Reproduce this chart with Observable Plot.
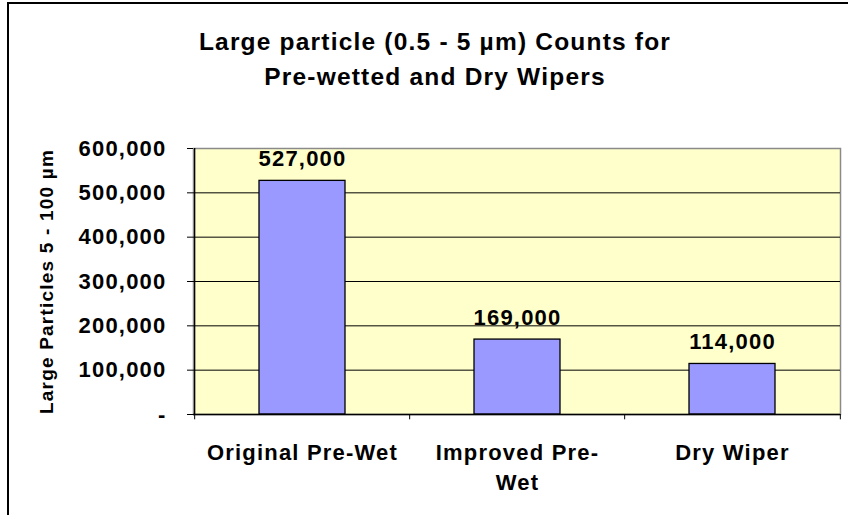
<!DOCTYPE html>
<html>
<head>
<meta charset="utf-8">
<script src="https://cdn.jsdelivr.net/npm/d3@7"></script>
<script src="https://cdn.jsdelivr.net/npm/@observablehq/plot@0.6"></script>
<style>
  html, body { margin: 0; padding: 0; background: #fff; }
  #wrap { position: relative; width: 848px; height: 515px; overflow: hidden; }
  #border { position: absolute; left: 7px; top: 2px; right: -10px; bottom: -10px; border-top: 2px solid #000; border-left: 2px solid #000; pointer-events: none; }
  svg text { letter-spacing: 1.2px; }
</style>
</head>
<body>
<div id="wrap"><div id="border"></div></div>
<script>
const titleLines = ["Large particle (0.5 - 5 µm) Counts for", "Pre-wetted and Dry Wipers"];
const yAxisTitle = "Large Particles 5 - 100 µm";
const categories = ["Original Pre-Wet", "Improved Pre-Wet", "Dry Wiper"];
const tickLabels = ["Original Pre-Wet", "Improved Pre-\nWet", "Dry Wiper"];
const counts = [527000, 169000, 114000];
const yTicks = [0, 100000, 200000, 300000, 400000, 500000, 600000];
const yTickLabels = ["-", "100,000", "200,000", "300,000", "400,000", "500,000", "600,000"];

const data = categories.map((c, i) => ({category: c, count: counts[i]}));

const W = 848, H = 515, mL = 193, mR = 8, mT = 148, mB = 101;
const step = (W - mL - mR) / categories.length;
const fmt = d3.format(",");

const chart = Plot.plot({
  width: W, height: H,
  marginLeft: mL, marginRight: mR, marginTop: mT, marginBottom: mB,
  style: {fontFamily: "'Liberation Sans', Arial, sans-serif", background: "transparent", overflow: "visible", color: "#000"},
  x: {domain: categories, paddingInner: 0.6, paddingOuter: 0.3, label: null},
  y: {domain: [0, 600000], label: null},
  marks: [
    Plot.frame({fill: "#FFFFCC", stroke: "#8a8a8a", strokeWidth: 1.5}),
    Plot.gridY(yTicks.slice(1, -1), {stroke: "#000", strokeOpacity: 1, strokeWidth: 1}),
    Plot.barY(data, {x: "category", y: "count", fill: "#9999FF", stroke: "#000", strokeWidth: 1.3}),
    Plot.ruleY([0], {stroke: "#000", strokeWidth: 1.3}),
    Plot.ruleX([categories[0]], {x: d => d, dx: -step / 2, y1: 0, y2: 600000, stroke: "#000", strokeWidth: 1.3}),
    Plot.ruleX(categories, {x: d => d, dx: -step / 2, y1: 0, y2: -12000, stroke: "#000"}),
    Plot.ruleX([categories[categories.length - 1]], {x: d => d, dx: step / 2, y1: 0, y2: -12000, stroke: "#000"}),
    Plot.axisY({ticks: yTicks, tickFormat: d => yTickLabels[yTicks.indexOf(d)], tickSize: 6, tickPadding: 21, fontSize: 22, fontWeight: "bold", label: null, stroke: "#000"}),
    Plot.axisX({tickSize: 0, tickPadding: 24, tickFormat: d => tickLabels[categories.indexOf(d)], fontSize: 22, fontWeight: "bold", lineHeight: 1.36, label: null}),
    Plot.text(data, {x: "category", y: "count", text: d => fmt(d.count), dy: -15, lineAnchor: "bottom", fontSize: 22, fontWeight: "bold"}),
    Plot.text([titleLines.join("\n")], {frameAnchor: "top", textAnchor: "middle", dx: -82, dy: -64, lineAnchor: "bottom", lineHeight: 1.42, fontSize: 24.5, fontWeight: "bold", text: d => d}),
    Plot.text([yAxisTitle], {frameAnchor: "left", textAnchor: "middle", dx: -141, rotate: -90, lineAnchor: "bottom", fontSize: 19, fontWeight: "bold", text: d => d})
  ]
});
document.getElementById("wrap").prepend(chart);
</script>
</body>
</html>
